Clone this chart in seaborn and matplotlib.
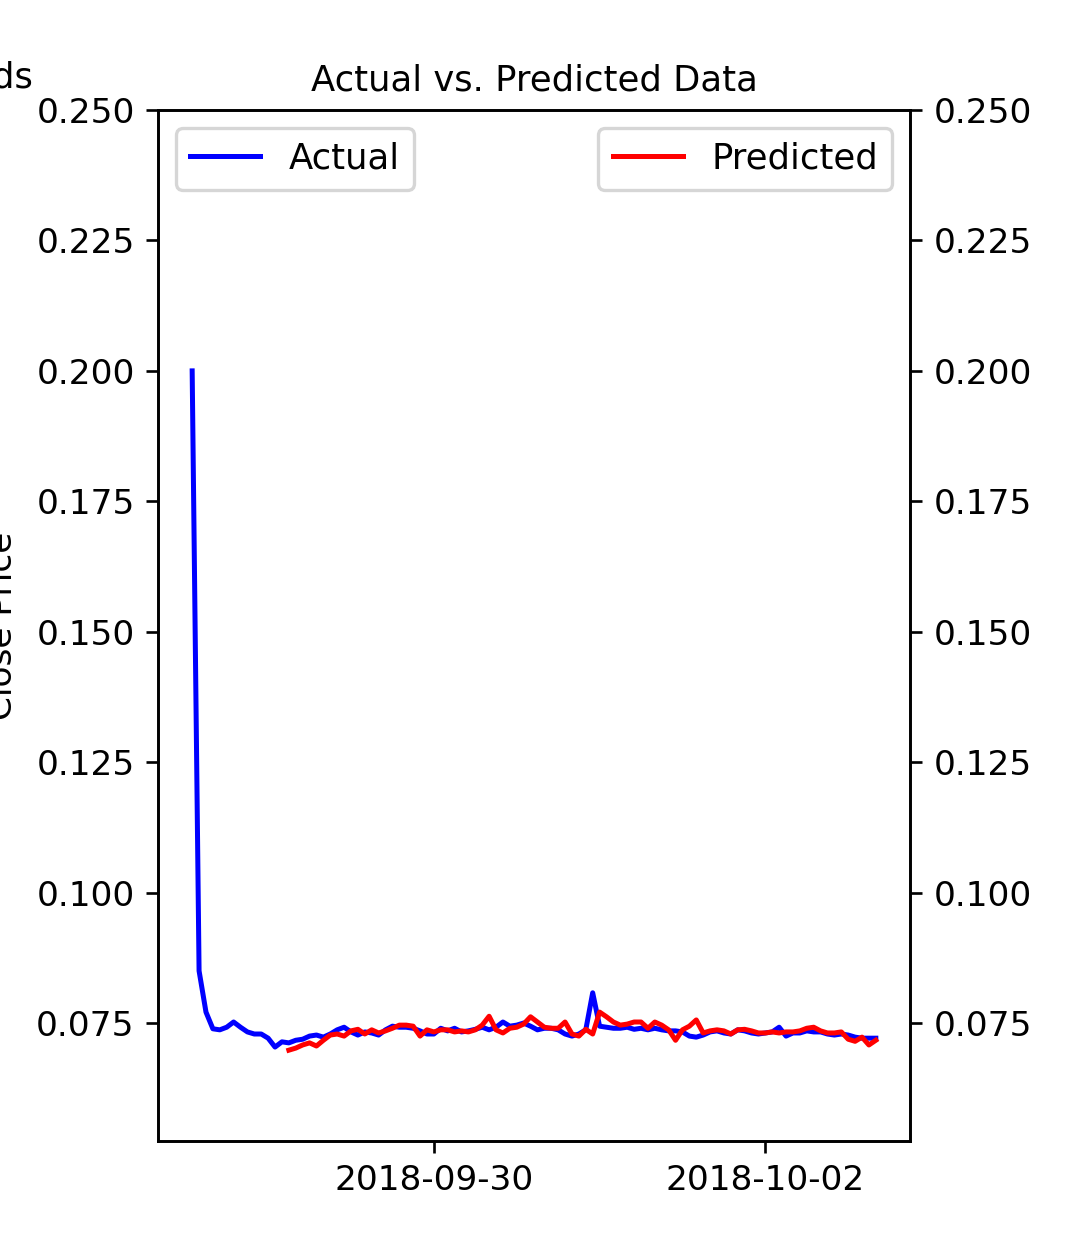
import pandas as pd
import seaborn as sns
import matplotlib.pyplot as plt

# hourly series
actual_start = "2018-09-28 13:00"
predicted_start = "2018-09-29 03:00"

actual_close = [
    0.2000, 0.0850, 0.0771, 0.0739, 0.0737, 0.0742, 0.0752, 0.0742, 0.0733, 0.0729,
    0.0729, 0.0721, 0.0704, 0.0714, 0.0712, 0.0717, 0.0719, 0.0725, 0.0727, 0.0723,
    0.0729, 0.0737, 0.0742, 0.0733, 0.0727, 0.0733, 0.0731, 0.0727, 0.0737, 0.0744,
    0.0742, 0.0742, 0.0740, 0.0735, 0.0729, 0.0729, 0.0740, 0.0735, 0.0740, 0.0733,
    0.0735, 0.0738, 0.0742, 0.0737, 0.0742, 0.0752, 0.0744, 0.0746, 0.0750, 0.0744,
    0.0737, 0.0740, 0.0740, 0.0737, 0.0729, 0.0725, 0.0729, 0.0737, 0.0808, 0.0744,
    0.0742, 0.0740, 0.0740, 0.0742, 0.0738, 0.0740, 0.0737, 0.0740, 0.0737, 0.0735,
    0.0735, 0.0733, 0.0725, 0.0723, 0.0727, 0.0733, 0.0735, 0.0731, 0.0729, 0.0737,
    0.0735, 0.0731, 0.0729, 0.0731, 0.0733, 0.0742, 0.0725, 0.0731, 0.0731, 0.0735,
    0.0733, 0.0733, 0.0729, 0.0727, 0.0729, 0.0727, 0.0723, 0.0721, 0.0721, 0.0721,
]

predicted_close = [
    0.0698, 0.0702, 0.0708, 0.0712, 0.0706, 0.0717, 0.0727, 0.0729, 0.0725, 0.0735,
    0.0738, 0.0729, 0.0737, 0.0731, 0.0735, 0.0740, 0.0746, 0.0746, 0.0744, 0.0725,
    0.0737, 0.0733, 0.0737, 0.0737, 0.0733, 0.0735, 0.0733, 0.0737, 0.0746, 0.0763,
    0.0737, 0.0731, 0.0740, 0.0742, 0.0748, 0.0762, 0.0752, 0.0742, 0.0740, 0.0740,
    0.0752, 0.0729, 0.0725, 0.0738, 0.0729, 0.0771, 0.0762, 0.0752, 0.0746, 0.0748,
    0.0752, 0.0752, 0.0740, 0.0752, 0.0746, 0.0737, 0.0717, 0.0737, 0.0744, 0.0756,
    0.0731, 0.0735, 0.0737, 0.0735, 0.0729, 0.0737, 0.0738, 0.0735, 0.0731, 0.0731,
    0.0733, 0.0731, 0.0733, 0.0733, 0.0735, 0.0740, 0.0742, 0.0735, 0.0731, 0.0731,
    0.0733, 0.0719, 0.0715, 0.0723, 0.0708, 0.0717,
]

tick_dates = ["2018-09-30", "2018-10-02"]
y_limits = (0.0524, 0.25)

actual_df = pd.DataFrame({
    "Date": pd.date_range(actual_start, periods=len(actual_close), freq="h"),
    "Close": actual_close,
})
predicted_df = pd.DataFrame({
    "Date": pd.date_range(predicted_start, periods=len(predicted_close), freq="h"),
    "Close": predicted_close,
})

plt.rcParams["xtick.labelsize"] = 10.3
plt.rcParams["ytick.labelsize"] = 10.3
plt.rcParams["legend.fontsize"] = 10.6

fig, ax = plt.subplots(figsize=(1074 / 240, 1246 / 240), dpi=240)
fig.subplots_adjust(left=0.1471, right=0.8473, top=0.9117, bottom=0.0843)

sns.lineplot(data=actual_df, x="Date", y="Close", color="blue", label="Actual", ax=ax)
ax.set_ylim(*y_limits)
ax.set_ylabel("Close Price", fontsize=10.3, labelpad=5)
ax.set_xlabel("")
ax.legend(loc="upper left")

ax2 = ax.twinx()
sns.lineplot(data=predicted_df, x="Date", y="Close", color="red", label="Predicted", ax=ax2)
ax2.set_ylim(*y_limits)
ax2.set_ylabel("")
ax2.legend(loc="upper right")

ticks = pd.to_datetime(tick_dates)
ax.set_xticks(ticks)
ax.set_xticklabels(tick_dates)

ax.set_title("Actual vs. Predicted Data", fontsize=10.6)

# tail of the neighbouring subplot's title, cut by the crop
fig.text(33 / 1074, 1 - 87 / 1246, "ds", ha="right", va="baseline", fontsize=10.6)

fig.savefig("out.png", dpi=240)
